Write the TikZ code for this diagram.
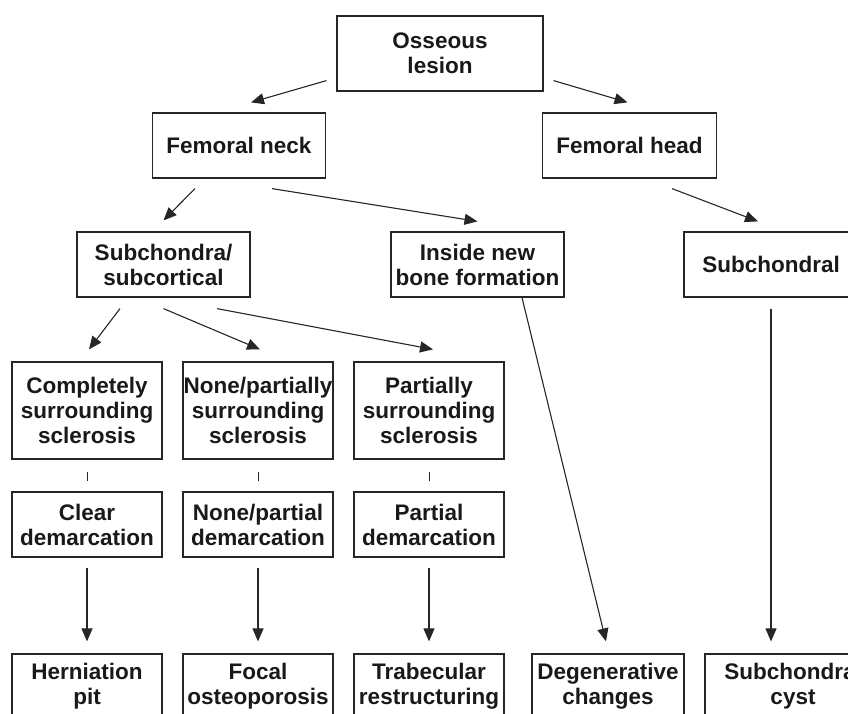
\documentclass[tikz,border=0pt]{standalone}
\usepackage{fontspec}
\setmainfont{Liberation Sans}
\usetikzlibrary{arrows.meta,calc}

\begin{document}
\begin{tikzpicture}[x=1pt,y=-1pt,
    lesionbox/.style={draw=black!85,line width=1.2pt,inner sep=0pt,align=center,
      font=\fontsize{22.5}{25}\selectfont\bfseries,text=black!90,
      minimum width=150pt,minimum height=65pt},
    link/.style={draw=black!85,line width=1.1pt,-{Triangle[length=13pt,width=11pt]}},
    stub/.style={draw=black!85,line width=1pt}]
    \useasboundingbox (0,0) rectangle (848,713);
    \clip (0,0) rectangle (848,713);

    % top levels
    \node[lesionbox,minimum width=206pt,minimum height=75pt] (osseous) at (440,53.5) {Osseous\\lesion};
    \node[lesionbox,minimum width=173pt] (fneck) at (239,145.5) {Femoral neck};
    \node[lesionbox,minimum width=174pt] (fhead) at (629.5,145.5) {Femoral head};
    \node[lesionbox,minimum width=173pt] (subcort) at (163.5,264.5) {Subchondra/\\subcortical};
    \node[lesionbox,minimum width=173pt] (inside) at (477.5,264.5) {Inside new\\bone formation};
    \node[lesionbox,minimum width=174pt] (subch) at (771,264.5) {Subchondral};

    % sclerosis
    \node[lesionbox,minimum height=97pt] (complete) at (87,410.5) {Completely\\surrounding\\sclerosis};
    \node[lesionbox,minimum height=97pt] (nonepart) at (258,410.5) {None/partially\\surrounding\\sclerosis};
    \node[lesionbox,minimum height=97pt] (partial) at (429,410.5) {Partially\\surrounding\\sclerosis};

    % demarcation
    \node[lesionbox] (clear) at (87,524.5) {Clear\\demarcation};
    \node[lesionbox] (nonedem) at (258,524.5) {None/partial\\demarcation};
    \node[lesionbox] (partdem) at (429,524.5) {Partial\\demarcation};

    % findings
    \node[lesionbox] (hern) at (87,686.5) {Herniation\\pit};
    \node[lesionbox] (focal) at (258,686.5) {Focal\\osteoporosis};
    \node[lesionbox] (trab) at (429,686.5) {Trabecular\\restructuring};
    \node[lesionbox,minimum width=152pt] (degen) at (608,686.5) {Degenerative\\changes};
    \node[lesionbox,minimum width=176pt] (cyst) at (793,686.5) {Subchondral\\cyst};

    \draw[link] ($(osseous.south west)+(-10,-11)$) -- ($(fneck.north)+(12,-10)$);
    \draw[link] ($(osseous.south east)+(10,-11)$) -- ($(fhead.north)+(-2,-10)$);
    \draw[link] ($(fneck.south)+(-44,10)$) -- ($(subcort.north)+(0,-11)$);
    \draw[link] ($(fneck.south)+(33,10)$) -- ($(inside.north)+(0,-10)$);
    \draw[link] ($(fhead.south)+(42.5,10)$) -- ($(subch.north)+(-13,-10)$);

    \draw[link] ($(subcort.south)+(-43.5,11)$) -- ($(complete.north)+(2,-12)$);
    \draw[link] ($(subcort.south)+(0,11)$) -- ($(nonepart.north)+(2,-12)$);
    \draw[link] ($(subcort.south)+(53.5,11)$) -- ($(partial.north)+(4,-12)$);

    \draw[stub] ($(complete.south)+(0,12)$) -- ($(clear.north)+(0,-10)$);
    \draw[stub] ($(nonepart.south)+(0,12)$) -- ($(nonedem.north)+(0,-10)$);
    \draw[stub] ($(partial.south)+(0,12)$) -- ($(partdem.north)+(0,-10)$);

    \draw[link] ($(clear.south)+(0,10)$) -- ($(hern.north)+(0,-12)$);
    \draw[link] ($(nonedem.south)+(0,10)$) -- ($(focal.north)+(0,-12)$);
    \draw[link] ($(partdem.south)+(0,10)$) -- ($(trab.north)+(0,-12)$);

    \draw[link] ($(inside.south)+(44.5,0)$) -- ($(degen.north)+(-2,-12)$);
    \draw[link] ($(subch.south)+(0,11)$) -- ($(subch.south |- cyst.north)+(0,-12)$);
\end{tikzpicture}
\end{document}
